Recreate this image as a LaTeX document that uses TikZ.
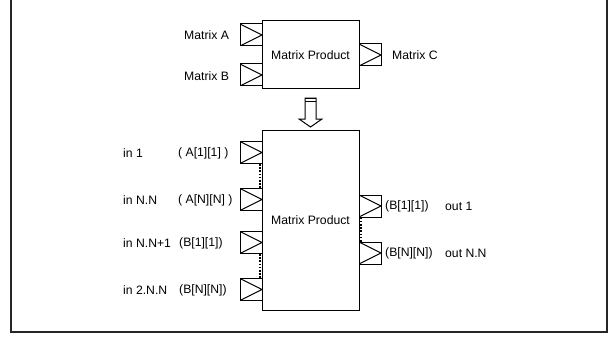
\documentclass[tikz,border=0pt]{standalone}
\usepackage{fontspec}
\setmainfont{Liberation Sans}
\begin{document}
\begin{tikzpicture}[
    x=1pt, y=-1pt,
    block/.style={
      draw=black,
      line width=1pt,
      minimum width=97pt,
      inner sep=0pt,
      font=\fontsize{12.2}{14}\selectfont
    },
    port/.style={
      draw=black,
      line width=1pt,
      minimum size=22pt,
      inner sep=0pt,
      path picture={
        \draw[line width=1pt] (path picture bounding box.north west)
          -- (path picture bounding box.east)
          -- (path picture bounding box.south west);
      }
    },
    lbl/.style={
      anchor=west,
      inner sep=0pt,
      font=\fontsize{12.2}{14}\selectfont
    },
    gap/.style={
      dash pattern=on 1.6pt off 1.6pt,
      line width=2pt
    }
  ]
    \useasboundingbox (0,0) rectangle (616,337);
    % outer frame
    \draw[line width=1.3pt, black!85] (11,-5) -- (11,332) -- (607,332) -- (607,-5);

    % top: compact view
    \node[block, minimum height=68pt] (mpone) at (310.5,55) {Matrix Product};
    \node[port] (pa) at (251,35) {};
    \node[port] (pb) at (251,75) {};
    \node[port] (pc) at (370,55) {};
    \node[lbl] (la) at (184,35) {Matrix A};
    \node[lbl] (lb) at (184,76) {Matrix B};
    \node[lbl] (lc) at (392,55) {Matrix C};

    % block arrow
    \draw[line width=1pt, fill=white] (305,98) -- (305,119) -- (299,119) -- (310.5,127)
      -- (322,119) -- (316,119) -- (316,98) -- cycle;
    \draw[line width=1.6pt] (305,98.6) -- (316,98.6);
    \draw[line width=0.8pt] (305,101.2) -- (316,101.2);

    % bottom: expanded view
    \node[block, minimum height=180pt] (mptwo) at (310.5,220) {Matrix Product};
    \node[port] (pinone) at (251,152.5) {};
    \node[port] (pinnn) at (251,199.5) {};
    \node[port] (pinnnone) at (251,242.5) {};
    \node[port] (pintwonn) at (251,289.5) {};
    \node[port] (poutone) at (370,206) {};
    \node[port] (poutnn) at (370,253) {};

    \draw[gap] ([xshift=-3pt]pinone.south east) -- ([xshift=-3pt]pinnn.north east);
    \draw[gap] ([xshift=-3pt]pinnnone.south east) -- ([xshift=-3pt]pintwonn.north east);
    \draw[gap] ([xshift=2.5pt]poutone.south west) -- ([xshift=2.5pt]poutnn.north west);

    \node[lbl] (linone) at (123,153) {in 1};
    \node[lbl] (linnn) at (123,200) {in N.N};
    \node[lbl] (linnnone) at (123,243) {in N.N+1};
    \node[lbl] (lintwonn) at (123,290) {in 2.N.N};
    \node[lbl] (eaone) at (178,153) {( A[1][1] )};
    \node[lbl] (eann) at (178,200) {( A[N][N] )};
    \node[lbl] (ebone) at (179,243) {(B[1][1])};
    \node[lbl] (ebnn) at (179,290) {(B[N][N])};

    \node[lbl] (eoone) at (385,206) {(B[1][1])};
    \node[lbl] (eonn) at (385,253) {(B[N][N])};
    \node[lbl] (loutone) at (445,206) {out 1};
    \node[lbl] (loutnn) at (445,253) {out N.N};
  \end{tikzpicture}
\end{document}
